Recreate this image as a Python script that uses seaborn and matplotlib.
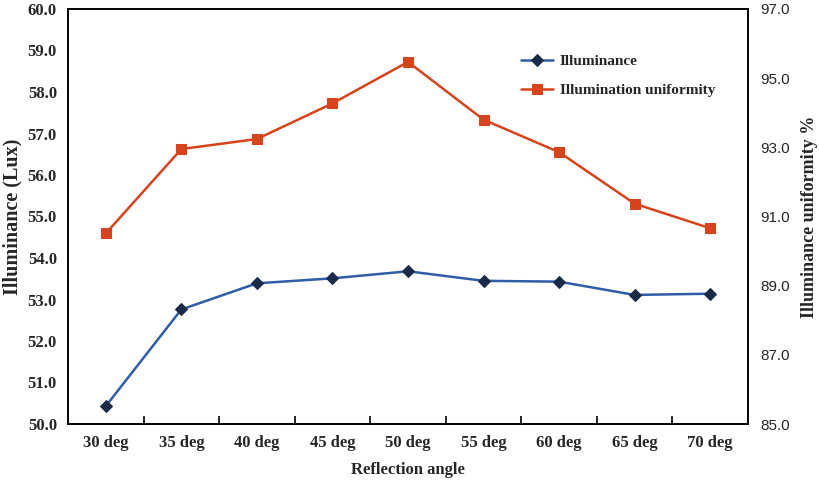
import matplotlib
matplotlib.use("Agg")
import matplotlib.pyplot as plt
import seaborn as sns
import pandas as pd
from matplotlib.ticker import FixedLocator, FormatStrFormatter

angles = ["30 deg", "35 deg", "40 deg", "45 deg", "50 deg", "55 deg", "60 deg", "65 deg", "70 deg"]
illuminance = [50.43, 52.76, 53.39, 53.51, 53.68, 53.45, 53.43, 53.11, 53.14]
uniformity = [90.51, 92.95, 93.24, 94.27, 95.47, 93.80, 92.86, 91.37, 90.66]

sns.set_theme(style="white")
plt.rcParams['font.family'] = ['Liberation Serif', 'DejaVu Serif']

df = pd.DataFrame({"angle": angles, "ill": illuminance, "uni": uniformity})
df["pos"] = range(len(angles))

fig = plt.figure(figsize=(8.2, 4.82), dpi=100)
ax = fig.add_axes([68/820, 1-424/482, 680/820, 415/482])
ax2 = ax.twinx()

blue = "#2F5DA8"
red = "#D8431B"

sns.lineplot(data=df, x="pos", y="ill", ax=ax, color=blue, lw=1.8,
             marker="D", markersize=6, markerfacecolor="#1B2A48", markeredgecolor="#1B2A48",
             label="Illuminance", legend=False)
sns.lineplot(data=df, x="pos", y="uni", ax=ax2, color=red, lw=1.8,
             marker="s", markersize=7, markerfacecolor=red, markeredgecolor=red,
             label="Illumination uniformity", legend=False)

ax.set_xlim(-0.5, len(angles) - 0.5)
ax.set_ylim(50, 60)
ax2.set_ylim(85, 97)
ax.set_yticks([50 + i for i in range(11)])
ax.yaxis.set_major_formatter(FormatStrFormatter("%.1f"))
ax2.set_yticks([85, 87, 89, 91, 93, 95, 97])
ax2.yaxis.set_major_formatter(FormatStrFormatter("%.1f"))

ax.set_xticks(df["pos"])
ax.set_xticklabels(angles, fontweight="bold", fontsize=12)
ax.xaxis.set_minor_locator(FixedLocator([i + 0.5 for i in range(len(angles) - 1)]))
ax.tick_params(axis="x", which="major", length=0, pad=8)
ax.tick_params(axis="x", which="minor", direction="in", length=6, width=1.2, color="black", bottom=True)
ax.tick_params(axis="y", length=0, pad=8)
for t in ax.get_yticklabels():
    t.set_fontweight("bold")
    t.set_fontsize(12)
ax2.tick_params(axis="y", length=0, pad=9)
for t in ax2.get_yticklabels():
    t.set_fontfamily("Liberation Sans")
    t.set_fontsize(11)

for a in (ax, ax2):
    for s in a.spines.values():
        s.set_color("black")
        s.set_linewidth(1.2)
    a.grid(False)

ax.set_xlabel("Reflection angle", fontweight="bold", fontsize=12, labelpad=8)
ax.set_ylabel("Illuminance (Lux)", fontweight="bold", fontsize=14.5, labelpad=4)
ax2.set_ylabel("Illuminance uniformity %", fontweight="bold", fontsize=13, labelpad=8)

h1, l1 = ax.get_legend_handles_labels()
h2, l2 = ax2.get_legend_handles_labels()
leg = ax2.legend(h1 + h2, l1 + l2, loc="upper left", bbox_to_anchor=(507/820, 1-41/482),
                 bbox_transform=fig.transFigure, frameon=False, handlelength=2.1,
                 handletextpad=0.45,
                 prop={"weight": "bold", "size": 11, "family": "Liberation Serif"},
                 labelspacing=1.0)

fig.savefig("out.png", dpi=100)
